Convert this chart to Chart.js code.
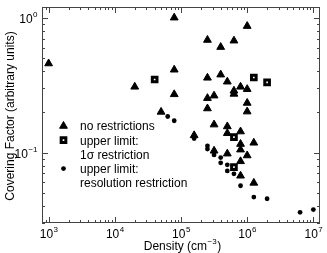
<!DOCTYPE html>
<html>
<head>
<meta charset="utf-8">
<script src="https://cdn.jsdelivr.net/npm/chart.js@4/dist/chart.umd.min.js"></script>
<style>
  html, body { margin: 0; padding: 0; background: #fff; }
  #wrap { width: 327px; height: 253px; }
</style>
</head>
<body>
<div id="wrap"><canvas id="chart" width="327" height="253"></canvas></div>
<script>
// Dữ liệu: không hạn chế (tam giác)
const triX = [1e3, 2.0e4, 5.0e4, 7.9e4, 7.9e4, 7.9e4, 1.58e5, 2.51e5, 2.51e5, 2.51e5, 2.51e5,
    3.16e5, 3.16e5, 3.16e5, 3.98e5, 3.98e5, 5.01e5, 5.01e5, 5.01e5, 5.01e5, 6.31e5, 6.31e5, 6.31e5,
    7.94e5, 7.94e5, 7.94e5, 7.94e5, 7.94e5, 7.94e5, 1e6, 1e6, 1e6, 1e6, 1e6, 1.26e6, 1.26e6];
const triY = [0.457, 0.307, 0.200, 1.00, 0.411, 0.270, 0.134, 0.683, 0.358, 0.253, 0.212,
    0.264, 0.161, 0.103, 0.605, 0.378, 0.335, 0.156, 0.139, 0.098, 0.675, 0.287, 0.272,
    0.307, 0.143, 0.1155, 0.105, 0.086, 0.0672, 0.866, 0.295, 0.233, 0.201, 0.095, 0.118, 0.0595];

// Giới hạn trên: 1σ (hình vuông)
const sqX = [4.0e4, 1.26e6, 2.0e6, 6.31e5, 6.31e5];
const sqY = [0.348, 0.360, 0.331, 0.130, 0.078];

// Giới hạn trên: độ phân giải (chấm tròn)
const dotX = [6.3e4, 7.9e4, 1.58e5, 2.51e5, 2.51e5, 3.16e5, 3.98e5, 3.98e5, 5.01e5, 5.01e5,
    6.31e5, 7.94e5, 1.26e6, 2.0e6, 6.3e6, 1e7];
const dotY = [0.185, 0.172, 0.127, 0.112, 0.106, 0.096, 0.0917, 0.0838, 0.081, 0.073,
    0.0695, 0.0567, 0.0467, 0.0454, 0.036, 0.0377];

// Nhãn trục
const xTickExps = [3, 4, 5, 6, 7];
const yTickExps = [0, -1];
const legendLabels = [['no restrictions'], ['upper limit:', '1\u03C3 restriction'], ['upper limit:', 'resolution restriction']];

const FONT = "'Liberation Sans', Arial, sans-serif";

function toPoints(xs, ys) {
    return xs.map((x, i) => ({ x: x, y: ys[i] }));
}

const triStyle = { pointStyle: 'triangle', radius: 4.5, backgroundColor: '#000', borderColor: '#000', borderWidth: 1 };
const sqStyle = { pointStyle: 'rect', radius: 3.3, backgroundColor: '#fff', borderColor: '#000', borderWidth: 3 };
const dotStyle = { pointStyle: 'circle', radius: 2.4, backgroundColor: '#000', borderColor: '#000', borderWidth: 0 };

// Vẽ "10" kèm số mũ
function drawPow(ctx, exp, x, y, align) {
    ctx.font = '12px ' + FONT;
    const w1 = ctx.measureText('10').width;
    ctx.font = '8px ' + FONT;
    const expText = exp < 0 ? '\u2212' + (-exp) : String(exp);
    const w2 = ctx.measureText(expText).width;
    let start = x;
    if (align === 'center') start = x - (w1 + w2) / 2;
    if (align === 'right') start = x - (w1 + w2);
    ctx.textAlign = 'left';
    ctx.textBaseline = 'alphabetic';
    ctx.font = '12px ' + FONT;
    ctx.fillText('10', start, y);
    ctx.font = '8px ' + FONT;
    ctx.fillText(expText, start + w1 + 0.5, y - 6);
}

// Plugin: khung, vạch chia, nhãn, chú thích
const decorPlugin = {
    id: 'decor',
    afterDatasetsDraw(chart) {
        const { ctx, chartArea: a, scales } = chart;
        const xs = scales.x, ys = scales.y;
        ctx.save();
        ctx.strokeStyle = '#444';
        ctx.lineWidth = 1;
        ctx.strokeRect(a.left + 0.5, a.top + 0.5, a.right - a.left - 1, a.bottom - a.top - 1);

        ctx.beginPath();
        for (let d = 2; d <= 7; d++) {
            for (let m = 1; m <= 9; m++) {
                const v = m * Math.pow(10, d);
                if (v < xs.min || v > xs.max) continue;
                const px = Math.round(xs.getPixelForValue(v)) + 0.5;
                const len = m === 1 ? 6 : 3;
                ctx.moveTo(px, a.bottom); ctx.lineTo(px, a.bottom - len);
                ctx.moveTo(px, a.top); ctx.lineTo(px, a.top + len);
            }
        }
        for (let d = -2; d <= 0; d++) {
            for (let m = 1; m <= 9; m++) {
                const v = m * Math.pow(10, d);
                if (v < ys.min || v > ys.max) continue;
                const py = Math.round(ys.getPixelForValue(v)) + 0.5;
                const len = m === 1 ? 6 : 3;
                ctx.moveTo(a.left, py); ctx.lineTo(a.left + len, py);
                ctx.moveTo(a.right, py); ctx.lineTo(a.right - len, py);
            }
        }
        ctx.stroke();

        ctx.fillStyle = '#000';
        xTickExps.forEach(e => {
            drawPow(ctx, e, xs.getPixelForValue(Math.pow(10, e)), a.bottom + 15, 'center');
        });
        yTickExps.forEach(e => {
            drawPow(ctx, e, a.left - 5, ys.getPixelForValue(Math.pow(10, e)) + 5, 'right');
        });

        // Tiêu đề trục x
        ctx.font = '12px ' + FONT;
        const t1 = 'Density (cm', t3 = ')';
        const w1 = ctx.measureText(t1).width, w3 = ctx.measureText(t3).width;
        ctx.font = '8px ' + FONT;
        const t2 = '\u22123';
        const w2 = ctx.measureText(t2).width;
        let sx = (a.left + a.right) / 2 + 1 - (w1 + w2 + w3) / 2;
        const by = 250;
        ctx.textAlign = 'left';
        ctx.font = '12px ' + FONT;
        ctx.fillText(t1, sx, by);
        ctx.font = '8px ' + FONT;
        ctx.fillText(t2, sx + w1 + 0.5, by - 6);
        ctx.font = '12px ' + FONT;
        ctx.fillText(t3, sx + w1 + w2 + 1, by);

        // Tiêu đề trục y
        ctx.save();
        ctx.translate(14, 116);
        ctx.rotate(-Math.PI / 2);
        ctx.textAlign = 'center';
        ctx.fillText('Covering Factor (arbitrary units)', 0, 0);
        ctx.restore();

        // Chú thích
        const styles = [triStyle, sqStyle, dotStyle];
        let row = 126;
        legendLabels.forEach((lines, i) => {
            const s = styles[i];
            ctx.fillStyle = s.backgroundColor;
            ctx.strokeStyle = s.borderColor;
            ctx.lineWidth = s.borderWidth;
            Chart.helpers.drawPoint(ctx, { pointStyle: s.pointStyle, radius: s.radius, rotation: 0, borderWidth: s.borderWidth }, 63.5, row);
            ctx.fillStyle = '#000';
            ctx.font = '12px ' + FONT;
            ctx.textBaseline = 'middle';
            lines.forEach(line => {
                ctx.fillText(line, 80, row + 1);
                row += 14.2;
            });
            ctx.textBaseline = 'alphabetic';
        });
        ctx.restore();
    }
};

// Khởi tạo biểu đồ
const ctx = document.getElementById('chart').getContext('2d');
new Chart(ctx, {
    type: 'scatter',
    data: {
        datasets: [
            Object.assign({ label: 'no restrictions', data: toPoints(triX, triY) }, triStyle),
            Object.assign({ label: 'upper limit: 1\u03C3 restriction', data: toPoints(sqX, sqY) }, sqStyle),
            Object.assign({ label: 'upper limit: resolution restriction', data: toPoints(dotX, dotY) }, dotStyle)
        ]
    },
    options: {
        responsive: false,
        animation: false,
        layout: { padding: { left: 42, top: 2, right: 5, bottom: 30 } },
        plugins: {
            legend: { display: false },
            tooltip: { enabled: false }
        },
        scales: {
            x: { type: 'logarithmic', min: 794, max: 1.26e7, display: false },
            y: { type: 'logarithmic', min: 0.03, max: 1.2, display: false }
        }
    },
    plugins: [decorPlugin]
});
</script>
</body>
</html>
